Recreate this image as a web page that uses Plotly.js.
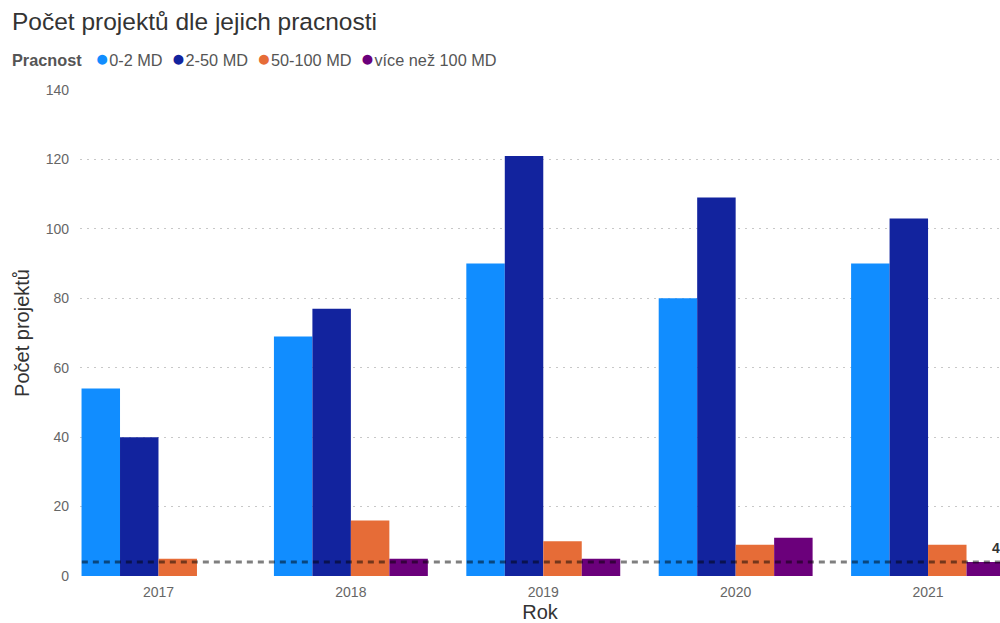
<!DOCTYPE html>
<html>
<head>
<meta charset="utf-8">
<script src="https://cdn.plot.ly/plotly-3.0.1.min.js"></script>
<style>html,body{margin:0;padding:0;background:#fff;}#chart{width:1000px;height:623px;}</style>
</head>
<body>
<div id="chart"></div>
<script>
const years = ['2017', '2018', '2019', '2020', '2021'];
const seriesNames = ['0-2 MD', '2-50 MD', '50-100 MD', 'více než 100 MD'];
const seriesColors = ['#118DFF', '#12239E', '#E66C37', '#6B007B'];
const values_0_2 = [54, 69, 90, 80, 90];
const values_2_50 = [40, 77, 121, 109, 103];
const values_50_100 = [5, 16, 10, 9, 9];
const values_100plus = [0, 5, 5, 11, 4];
const referenceValue = 4;
const yTicks = [0, 20, 40, 60, 80, 100, 120, 140];

const seriesValues = [values_0_2, values_2_50, values_50_100, values_100plus];
const FONT = 'Liberation Sans, Arial, sans-serif';

const traces = seriesNames.map((name, i) => ({
  type: 'bar',
  name: name,
  x: years,
  y: seriesValues[i],
  marker: {color: seriesColors[i]},
  showlegend: false,
  hoverinfo: 'x+y+name'
}));

const NB = '\u00a0';
const legendText = '<b>Pracnost</b>' + NB + NB + NB + seriesNames.map((n, i) =>
  '<span style="color:' + seriesColors[i] + ';font-size:23px">●</span>' + n).join(NB + NB);

const layout = {
  width: 1000,
  height: 623,
  margin: {l: 80, r: 0, t: 90, b: 47},
  paper_bgcolor: '#ffffff',
  plot_bgcolor: '#ffffff',
  font: {family: FONT, color: '#666666', size: 14},
  barmode: 'group',
  bargap: 0.2,
  bargroupgap: 0,
  title: {
    text: 'Počet projektů dle jejich pracnosti',
    x: 0.012, xanchor: 'left', xref: 'container',
    y: 0.966, yanchor: 'middle', yref: 'container',
    font: {family: FONT, size: 24.5, color: '#333333'}
  },
  xaxis: {
    type: 'category',
    range: [-0.408, 4.374],
    showgrid: false,
    showline: false,
    ticks: '',
    ticklabelstandoff: 6,
    tickfont: {family: FONT, size: 14, color: '#666666'},
    title: {text: 'Rok', font: {family: FONT, size: 20, color: '#333333'}, standoff: 8}
  },
  yaxis: {
    range: [0, 140],
    tickvals: yTicks,
    ticktext: yTicks.map(String),
    showgrid: true,
    gridcolor: '#c8c8c8',
    griddash: '1.5px,5.5px',
    gridwidth: 1,
    zeroline: false,
    showline: false,
    ticks: '',
    ticklabelstandoff: 10,
    tickfont: {family: FONT, size: 14, color: '#666666'},
    title: {text: 'Počet projektů', font: {family: FONT, size: 20, color: '#333333'}, standoff: 10}
  },
  shapes: [{
    type: 'line', xref: 'paper', yref: 'y',
    x0: 0.002, x1: 1, y0: referenceValue, y1: referenceValue,
    line: {color: 'rgba(0,0,0,0.5)', width: 3, dash: '6px,5px'},
    layer: 'above'
  }],
  annotations: [
    {
      xref: 'paper', yref: 'paper', x: -0.0764, y: 1.066,
      xanchor: 'left', yanchor: 'middle', showarrow: false,
      text: legendText,
      font: {family: FONT, size: 16.3, color: '#555555'}
    },
    {
      xref: 'paper', yref: 'y', x: 1, y: referenceValue,
      xanchor: 'left', yanchor: 'bottom', xshift: -10, yshift: 4, showarrow: false,
      text: '<b>' + referenceValue + '</b>',
      font: {family: FONT, size: 14, color: '#333333'}
    }
  ]
};

Plotly.newPlot('chart', traces, layout, {displayModeBar: false, staticPlot: true});
</script>
</body>
</html>
